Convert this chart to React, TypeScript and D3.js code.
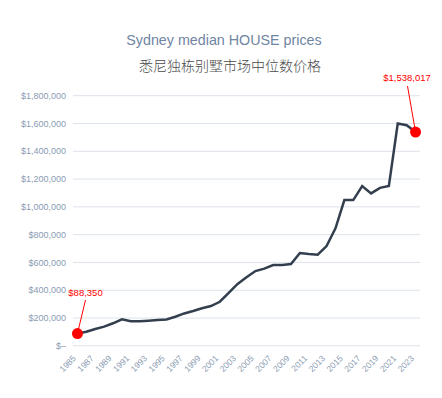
import React from 'react';
import * as d3 from 'd3';

const years = d3.range(1985, 2024).map(String);
const prices = [
  88350, 101000, 121000, 138000, 162000, 190000, 176000, 176000, 180000, 185000,
  189000, 209000, 233000, 250000, 270000, 286000, 317000, 381000, 445000, 493000,
  538000, 555000, 581000, 581000, 588000, 668000, 660000, 656000, 718000, 845000,
  1049000, 1049000, 1150000, 1097000, 1137000, 1150000, 1600000, 1588000, 1538017,
];
const yTicks = [0, 200000, 400000, 600000, 800000, 1000000, 1200000, 1400000, 1600000, 1800000];
const xTickLabels = years.filter((_, i) => i % 2 === 0);

const W = 442;
const H = 398;
const margin = { top: 95.7, right: 22, bottom: 52.2, left: 73 };
const FONT = "'Liberation Sans', Arial, Helvetica, sans-serif";

export default function App() {
  const x = d3.scaleBand<string>()
    .domain(years)
    .range([margin.left, W - margin.right]);
  const cx = (yr: string) => (x(yr) ?? 0) + x.bandwidth() / 2;

  const y = d3.scaleLinear()
    .domain([0, 1800000])
    .range([H - margin.bottom, margin.top]);

  const line = d3.line<number>()
    .x((_, i) => cx(years[i]))
    .y(d => y(d));

  const fmt = (v: number) => (v === 0 ? '$–' : '$' + d3.format(',')(v));

  const first = { yr: years[0], v: prices[0] };
  const last = { yr: years[years.length - 1], v: prices[prices.length - 1] };

  return (
    <div style={{ position: 'absolute', left: 0, top: 0 }}>
      <svg width={W} height={H} style={{ display: 'block', fontFamily: FONT }}>
        <rect width={W} height={H} fill="#ffffff" />

        <text x={224} y={45} textAnchor="middle" fontSize={14.3} fill="#6f85a2">
          Sydney median HOUSE prices
        </text>
        <text x={230} y={71} textAnchor="middle" fontSize={14} fill="#4a4a4a" fontWeight={300}
          style={{ fontFamily: "'Noto Sans CJK SC', sans-serif" }}>
          悉尼独栋别墅市场中位数价格
        </text>

        {/* grid + y labels */}
        {yTicks.map(t => (
          <g key={t}>
            <line x1={margin.left} x2={W - margin.right} y1={y(t)} y2={y(t)}
              stroke="#dde3ea" strokeWidth={1} />
            <text x={66} y={y(t)} dy="0.35em" textAnchor="end" fontSize={9} fill="#8a9bb2">
              {fmt(t)}
            </text>
          </g>
        ))}

        {/* x labels */}
        {xTickLabels.map(yr => (
          <text key={yr} fontSize={8.5} fill="#8a9bb2" textAnchor="end"
            transform={`translate(${cx(yr) - 1},${359}) rotate(-45)`}>
            {yr}
          </text>
        ))}

        <path d={line(prices) ?? ''} fill="none" stroke="#333f4e" strokeWidth={2.5}
          strokeLinejoin="miter" />

        {/* annotations */}
        <line x1={85.5} y1={300} x2={cx(first.yr)} y2={y(first.v)} stroke="#ff0000" strokeWidth={1} />
        <circle cx={cx(first.yr)} cy={y(first.v)} r={5.5} fill="#ff0000" />
        <text x={85.5} y={296} textAnchor="middle" fontSize={9.5} fill="#ff0000">
          {fmt(first.v)}
        </text>

        <line x1={407.5} y1={86} x2={cx(last.yr)} y2={y(last.v)} stroke="#ff0000" strokeWidth={1} />
        <circle cx={cx(last.yr)} cy={y(last.v)} r={5.5} fill="#ff0000" />
        <text x={407} y={81} textAnchor="middle" fontSize={9.5} fill="#ff0000">
          {fmt(last.v)}
        </text>
      </svg>
    </div>
  );
}
